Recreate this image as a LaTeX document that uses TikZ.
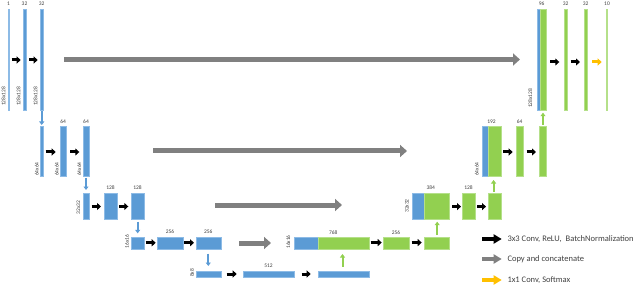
\documentclass[tikz,border=0pt]{standalone}
\usepackage{fontspec}
\setmainfont{Carlito}
\usetikzlibrary{arrows.meta}
\definecolor{ublue}{HTML}{5B9BD5}
\definecolor{ublueE}{HTML}{8DBBE6}
\definecolor{ugreen}{HTML}{92D050}
\definecolor{ugreenE}{HTML}{B5E08A}
\definecolor{ugray}{HTML}{808080}
\definecolor{uorange}{HTML}{FFC000}
\definecolor{utext}{HTML}{404040}
\tikzset{
  bluebar/.style={fill=ublue,draw=ublueE,line width=0.4pt},
  greenbar/.style={fill=ugreen,draw=ugreenE,line width=0.4pt},
  thinblue/.style={fill=ublueE,draw=ublueE,line width=0.3pt},
  thingreen/.style={fill=ugreenE,draw=ugreenE,line width=0.3pt},
  blk/.style={line width=3pt,draw=black,-{Triangle[width=7pt,length=4pt]}},
  org/.style={line width=3pt,draw=uorange,-{Triangle[width=7pt,length=4pt]}},
  cpy/.style={line width=5pt,draw=ugray,-{Triangle[width=12pt,length=7pt]}},
  dn/.style={line width=2pt,draw=ublue,-{Triangle[width=5pt,length=3.5pt]}},
  up/.style={line width=2pt,draw=ugreen,-{Triangle[width=5pt,length=3.5pt]}},
  lg/.style={line width=4.5pt,-{Triangle[width=9pt,length=8pt]}},
  toplab/.style={font=\fontsize{5.5}{6}\selectfont,text=utext,inner sep=0pt},
  sidelab/.style={font=\fontsize{5.5}{6}\selectfont,text=utext,inner sep=0pt,rotate=90},
  leg/.style={font=\fontsize{8.5}{9}\selectfont,text=utext,inner sep=0pt,anchor=west},
}
\begin{document}
\begin{tikzpicture}[x=1pt,y=-1pt]
\useasboundingbox (0,0) rectangle (640,286);
% ---- encoder level 1
\draw[thinblue] (8,9) rectangle (9.5,110);
\draw[bluebar] (23.3,9) rectangle (25.7,110);
\draw[bluebar] (40,9) rectangle (43.3,110);
\node[toplab] (t1a) at (8.6,4) {1};
\node[toplab] (t1b) at (24.5,4) {32};
\node[toplab] (t1c) at (41.6,4) {32};
\node[sidelab,anchor=west] (s1a) at (3.5,106) {128x128};
\node[sidelab,anchor=west] (s1b) at (18.5,106) {128x128};
\node[sidelab,anchor=west] (s1c) at (35.5,106) {128x128};
\draw[blk] (11.7,60) -- (20.7,60);
\draw[blk] (29,60) -- (37.7,60);
\draw[cpy] (64,59.5) -- (520,59.5);
\draw[dn] (41.7,111) -- (41.7,125);
% ---- encoder level 2
\draw[bluebar] (40,126.7) rectangle (43.3,176.7);
\draw[bluebar] (60,126.7) rectangle (65.7,176.7);
\draw[bluebar] (83,126.7) rectangle (89,176.7);
\node[toplab] (t2b) at (63.2,121.7) {64};
\node[toplab] (t2c) at (86,121.7) {64};
\node[sidelab,anchor=west] (s2a) at (36.7,176) {64x64};
\node[sidelab,anchor=west] (s2b) at (56.7,176) {64x64};
\node[sidelab,anchor=west] (s2c) at (79.3,176) {64x64};
\draw[blk] (45.7,152) -- (55.7,152);
\draw[blk] (70,152) -- (79.3,152);
\draw[cpy] (153,151) -- (407,151);
\draw[dn] (86,178) -- (86,190);
% ---- encoder level 3
\draw[bluebar] (83.3,193.3) rectangle (89.3,218.7);
\draw[bluebar] (104.3,193.3) rectangle (116.7,218.7);
\draw[bluebar] (131,193.3) rectangle (144,218.7);
\node[toplab] (t3b) at (110.5,187.5) {128};
\node[toplab] (t3c) at (137.5,187.5) {128};
\node[sidelab] (s3a) at (78.3,207.5) {32x32};
\draw[blk] (91.7,206.5) -- (101,206.5);
\draw[blk] (119,206.5) -- (128.3,206.5);
\draw[cpy] (215,205) -- (342,205);
\draw[dn] (137.7,221.5) -- (137.7,233.3);
% ---- encoder level 4
\draw[bluebar] (131,236.7) rectangle (144,249);
\draw[bluebar] (157.3,236.7) rectangle (182.7,249);
\draw[bluebar] (196,236.7) rectangle (220.7,249);
\node[toplab] (t4b) at (170,231.7) {256};
\node[toplab] (t4c) at (208.3,231.7) {256};
\node[sidelab] (s4a) at (127,241.5) {16x16};
\draw[blk] (145.7,242.8) -- (155.7,242.8);
\draw[blk] (184,242.8) -- (194,242.8);
\draw[cpy] (239.3,243) -- (271,243);
\draw[dn] (208.3,253.5) -- (208.3,266);
% ---- bottom level 5
\draw[bluebar] (196,270.7) rectangle (220.7,277.3);
\draw[bluebar] (243.3,270.7) rectangle (294,277.3);
\draw[bluebar] (318.3,270.7) rectangle (369,277.3);
\node[toplab] (t5b) at (268.5,265.3) {512};
\node[sidelab] (s5a) at (192,273) {8x8};
\draw[blk] (226.7,274) -- (236.7,274);
\draw[blk] (301.7,274) -- (310.7,274);
\draw[up] (342.5,266.5) -- (342.5,254);
% ---- decoder level 4
\draw[bluebar] (294.3,236.7) rectangle (318.3,249);
\draw[greenbar] (318.3,236.7) rectangle (369,249);
\draw[greenbar] (383.3,236.7) rectangle (409,249);
\draw[greenbar] (424,236.7) rectangle (449.3,249);
\node[toplab] (t6a) at (333.3,232.3) {768};
\node[toplab] (t6b) at (396,232.3) {256};
\node[sidelab] (s6a) at (288.3,242) {16x16};
\draw[blk] (370.7,242.6) -- (381.7,242.6);
\draw[blk] (411.7,242.6) -- (421.7,242.6);
\draw[up] (437.2,235) -- (437.2,221.7);
% ---- decoder level 3
\draw[bluebar] (412.3,193.3) rectangle (424,218.7);
\draw[greenbar] (424,193.3) rectangle (449.3,218.7);
\draw[greenbar] (462.3,193.3) rectangle (475,218.7);
\draw[greenbar] (487.7,193.3) rectangle (500.7,218.7);
\node[toplab] (t7a) at (430.7,187.7) {384};
\node[toplab] (t7b) at (468.5,187.7) {128};
\node[sidelab] (s7a) at (406.8,206) {32x32};
\draw[blk] (452.3,206.6) -- (461,206.6);
\draw[blk] (477.3,206.6) -- (486,206.6);
\draw[up] (493.6,191.7) -- (493.6,180);
% ---- decoder level 2
\draw[bluebar] (481.7,126.7) rectangle (487.7,176.7);
\draw[greenbar] (487.7,126.7) rectangle (500.7,176.7);
\draw[greenbar] (516,126.7) rectangle (523.3,176.7);
\draw[greenbar] (539.3,126.7) rectangle (546,176.7);
\node[toplab] (t8a) at (491.5,121.7) {192};
\node[toplab] (t8b) at (519.7,121.7) {64};
\node[sidelab,anchor=west] (s8a) at (476.8,176) {64x64};
\draw[blk] (503.3,152) -- (512.7,152);
\draw[blk] (526.7,152) -- (536,152);
\draw[up] (543,125) -- (543,112.7);
% ---- decoder level 1
\draw[bluebar] (537.3,9) rectangle (539.7,110);
\draw[greenbar] (539.7,9) rectangle (546,110);
\draw[greenbar] (564,9) rectangle (567.3,110);
\draw[greenbar] (584,9) rectangle (587.3,110);
\draw[thingreen] (606,9) rectangle (607.3,110);
\node[toplab] (t9a) at (541.6,4) {96};
\node[toplab] (t9b) at (565.7,4) {32};
\node[toplab] (t9c) at (585.7,4) {32};
\node[toplab] (t9d) at (607,4) {10};
\node[sidelab,anchor=west] (s9a) at (530.2,108) {128x128};
\draw[blk] (550,62) -- (559.3,62);
\draw[blk] (570.7,62) -- (580,62);
\draw[org] (592.3,62) -- (601.7,62);
% ---- legend
\coordinate (la1) at (482.3,239);
\coordinate (la2) at (501.7,239);
\coordinate (lb1) at (482.3,259);
\coordinate (lb2) at (501.7,259);
\coordinate (lc1) at (482.3,280);
\coordinate (lc2) at (501.7,280);
\draw[lg,draw=black] (la1) -- (la2);
\draw[lg,draw=ugray] (lb1) -- (lb2);
\draw[lg,draw=uorange] (lc1) -- (lc2);
\node[leg] (l1) at (507.3,239) {3x3 Conv, ReLU,\ \ BatchNormalization};
\node[leg] (l2) at (507.3,259) {Copy and concatenate};
\node[leg] (l3) at (507.3,280) {1x1 Conv, Softmax};
\end{tikzpicture}
\end{document}
